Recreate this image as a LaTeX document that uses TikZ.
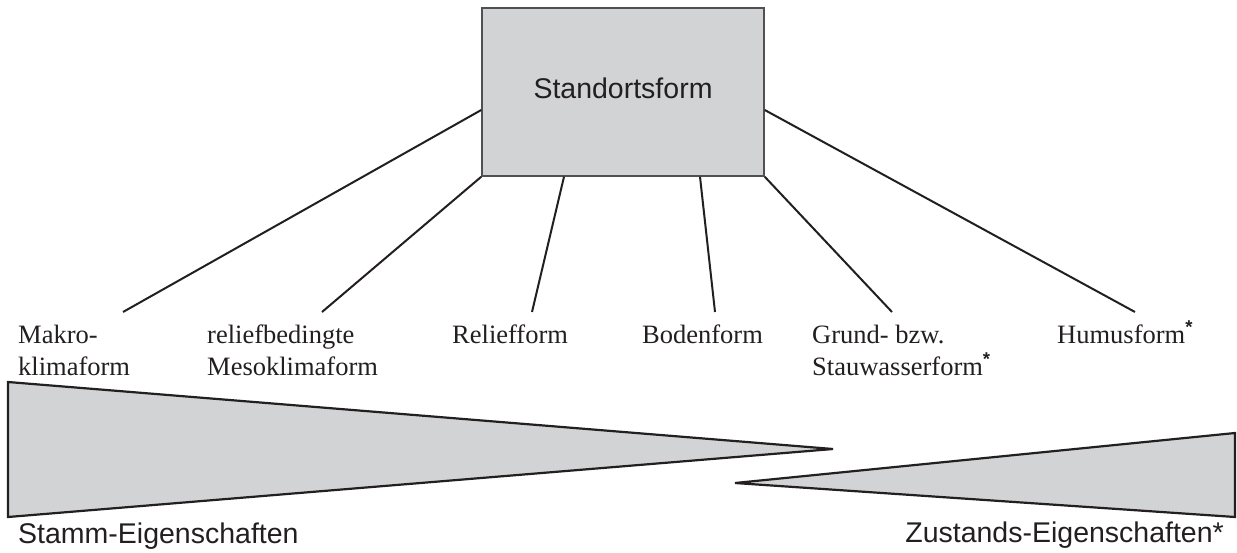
\documentclass[tikz,border=0pt]{standalone}
\usepackage{fontspec}
\setmainfont{Liberation Serif}
\setsansfont{Liberation Sans}
\definecolor{fillgray}{RGB}{209,211,212}
\definecolor{ink}{RGB}{35,31,32}
\definecolor{boxline}{RGB}{80,80,80}
\newcommand{\supstar}{\textsuperscript{\sffamily\bfseries *}}
\begin{document}
\begin{tikzpicture}[x=1pt,y=-1pt]
\tikzset{
  lbl/.style={anchor=base west, inner sep=0pt, text=ink, font=\fontsize{26.5}{32}\selectfont},
  sflbl/.style={inner sep=0pt, text=ink, font=\sffamily\fontsize{28.5}{34}\selectfont},
  conn/.style={draw=ink, line width=2pt},
  wedge/.style={draw=ink, fill=fillgray, line width=2.2pt, line join=miter},
  mainbox/.style={draw=boxline, fill=fillgray, line width=1.5pt, minimum width=282pt, minimum height=168pt, inner sep=0pt, text height=20pt, text depth=8pt},
}
\useasboundingbox (0,0) rectangle (1237,552);

\node[mainbox, sflbl, anchor=center] (box) at (623,92) {Standortsform};

\node[lbl] (makroA) at (18,343) {Makro-};
\node[lbl] (makroB) at (18,375) {klimaform};
\node[lbl] (mesoA) at (207,343) {reliefbedingte};
\node[lbl] (mesoB) at (207,375) {Mesoklimaform};
\node[lbl] (relief) at (452,343) {Reliefform};
\node[lbl] (boden) at (642,343) {Bodenform};
\node[lbl] (grundA) at (812,343) {Grund- bzw.};
\node[lbl] (grundB) at (812,375) {Stauwasserform\supstar};
\node[lbl] (humus) at (1057,343) {Humusform\supstar};

\coordinate (eMakro) at (123,312);
\coordinate (eMeso) at (322,312);
\coordinate (eRelief) at (532,312);
\coordinate (eBoden) at (715,312);
\coordinate (eGrund) at (892,312);
\coordinate (eHumus) at (1135,312);

\draw[conn] ([yshift=-18pt]box.west) -- (eMakro);
\draw[conn] (box.south west) -- (eMeso);
\draw[conn] ([xshift=-59pt]box.south) -- (eRelief);
\draw[conn] ([xshift=77pt]box.south) -- (eBoden);
\draw[conn] (box.south east) -- (eGrund);
\draw[conn] ([yshift=-18pt]box.east) -- (eHumus);

\draw[wedge] (8,382) -- (833,449) -- (8,517) -- cycle;
\draw[wedge] (735,483) -- (1235,433) -- (1235,517) -- cycle;

\node[sflbl, anchor=base west] (stamm) at (18,543) {Stamm-Eigenschaften};
\node[sflbl, anchor=base east] (zustand) at (1224,542) {Zustands-Eigenschaften*};
\end{tikzpicture}
\end{document}
